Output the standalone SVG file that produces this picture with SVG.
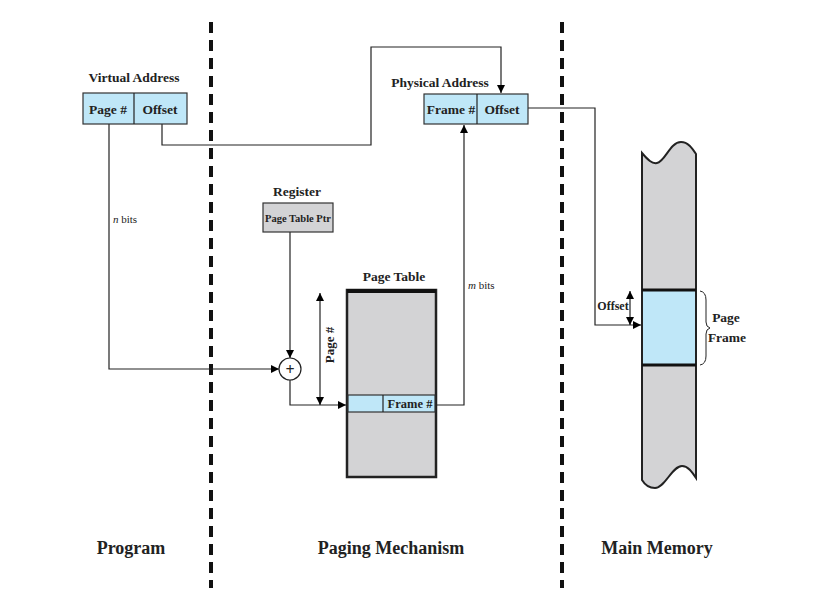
<svg xmlns="http://www.w3.org/2000/svg" width="826" height="614" viewBox="0 0 826 614">
<defs>
<marker id="ah" viewBox="0 0 10 10" refX="10" refY="5" markerWidth="8" markerHeight="8" orient="auto-start-reverse" markerUnits="userSpaceOnUse"><path d="M0,0 L10,5 L0,10 z" fill="#000"/></marker>
<style>
.t{font-family:"Liberation Serif","Times New Roman",serif;font-weight:bold;fill:#222}
.lbl{font-size:13.5px}
.big{font-size:18px}
.ln{fill:none;stroke:#222;stroke-width:1.2}
.blue{fill:#bfe7f8;stroke:#333;stroke-width:1.2}
.gray{fill:#d3d3d5;stroke:#333;stroke-width:1.2}
.dash{stroke:#111;stroke-width:4;stroke-dasharray:11,7}
</style>
</defs>
<rect width="826" height="614" fill="#fff"/>
<g id="dividers">
<line class="dash" x1="211" y1="22" x2="211" y2="588"/>
<line class="dash" x1="562" y1="22" x2="562" y2="588"/>
</g>
<g id="connectors">
<path class="ln" d="M109,124 V369 H279" marker-end="url(#ah)"/>
<path class="ln" d="M162,124 V145 H371 V47 H501 V93" marker-end="url(#ah)"/>
<path class="ln" d="M290,232 V358" marker-end="url(#ah)"/>
<path class="ln" d="M290,380 V405 H346" marker-end="url(#ah)"/>
<path class="ln" d="M436,405 H464 V125" marker-end="url(#ah)"/>
<path class="ln" d="M528,108 H595 V325 H641" marker-end="url(#ah)"/>
<path class="ln" d="M320,293 V405" marker-start="url(#ah)" marker-end="url(#ah)"/>
<path class="ln" d="M630,291 V325" marker-start="url(#ah)" marker-end="url(#ah)"/>
<text class="t" x="113" y="223" style="font-size:11px;font-weight:normal"><tspan font-style="italic">n</tspan> bits</text>
<text class="t" x="468" y="289" style="font-size:11px;font-weight:normal"><tspan font-style="italic">m</tspan> bits</text>
<text class="t" x="0" y="0" transform="translate(334,345) rotate(-90)" text-anchor="middle" style="font-size:13px">Page #</text>
</g>
<g id="virtual-address">
<text class="t lbl" x="134" y="82" text-anchor="middle">Virtual Address</text>
<rect class="blue" x="83" y="93" width="104" height="31"/>
<line class="ln" x1="134" y1="93" x2="134" y2="124"/>
<text class="t lbl" x="108" y="114" text-anchor="middle">Page #</text>
<text class="t lbl" x="160" y="114" text-anchor="middle">Offset</text>
</g>
<g id="physical-address">
<text class="t lbl" x="440" y="87" text-anchor="middle">Physical Address</text>
<rect class="blue" x="424" y="94" width="104" height="30"/>
<line class="ln" x1="477" y1="94" x2="477" y2="124"/>
<text class="t lbl" x="451" y="114" text-anchor="middle">Frame #</text>
<text class="t lbl" x="502" y="114" text-anchor="middle">Offset</text>
</g>
<g id="register">
<text class="t lbl" x="297" y="196" text-anchor="middle">Register</text>
<rect class="gray" x="263" y="203" width="70" height="29"/>
<text class="t" x="298" y="222" text-anchor="middle" style="font-size:10.5px">Page Table Ptr</text>
</g>
<g id="adder">
<circle cx="290" cy="369" r="11" fill="#fff" stroke="#222" stroke-width="1.2"/>
<text class="t" x="290" y="375" text-anchor="middle" style="font-size:16px">+</text>
</g>
<g id="page-table">
<text class="t lbl" x="394" y="281" text-anchor="middle">Page Table</text>
<rect x="347" y="290" width="89" height="187" fill="#d3d3d5" stroke="#222" stroke-width="2.5"/>
<line x1="347" y1="291" x2="436" y2="291" stroke="#111" stroke-width="4"/>
<rect class="blue" x="348" y="395" width="87" height="17"/>
<line class="ln" x1="383" y1="395" x2="383" y2="412"/>
<text class="t" x="410" y="408" text-anchor="middle" style="font-size:12.5px">Frame #</text>
</g>
<g id="main-memory">
<path d="M642,153 C648,160 652,164 657,163 C665,162 670,142 681,142 C688,142 692,148 696,154 V478 C692,472 688,466 682,466 C672,466 665,488 655,488 C650,488 645,485 642,480 Z" fill="#d3d3d5" stroke="#222" stroke-width="2"/>
<rect x="642" y="290" width="54" height="75" fill="#bfe7f8" stroke="#222" stroke-width="2"/>
<line x1="642" y1="290" x2="696" y2="290" stroke="#111" stroke-width="3"/>
<line x1="642" y1="365" x2="696" y2="365" stroke="#111" stroke-width="3"/>
<text class="t" x="613" y="310" text-anchor="middle" style="font-size:12px">Offset</text>
<path d="M700,291 Q706,292 706,300 V322 Q706,327 710,328 Q706,329 706,334 V356 Q706,364 700,365" fill="none" stroke="#222" stroke-width="1"/>
<text class="t lbl" x="726" y="322" text-anchor="middle">Page</text>
<text class="t lbl" x="727" y="342" text-anchor="middle">Frame</text>
</g>
<g id="section-labels">
<text class="t big" x="131" y="554" text-anchor="middle">Program</text>
<text class="t big" x="391" y="554" text-anchor="middle">Paging Mechanism</text>
<text class="t big" x="657" y="554" text-anchor="middle">Main Memory</text>
</g>
</svg>
